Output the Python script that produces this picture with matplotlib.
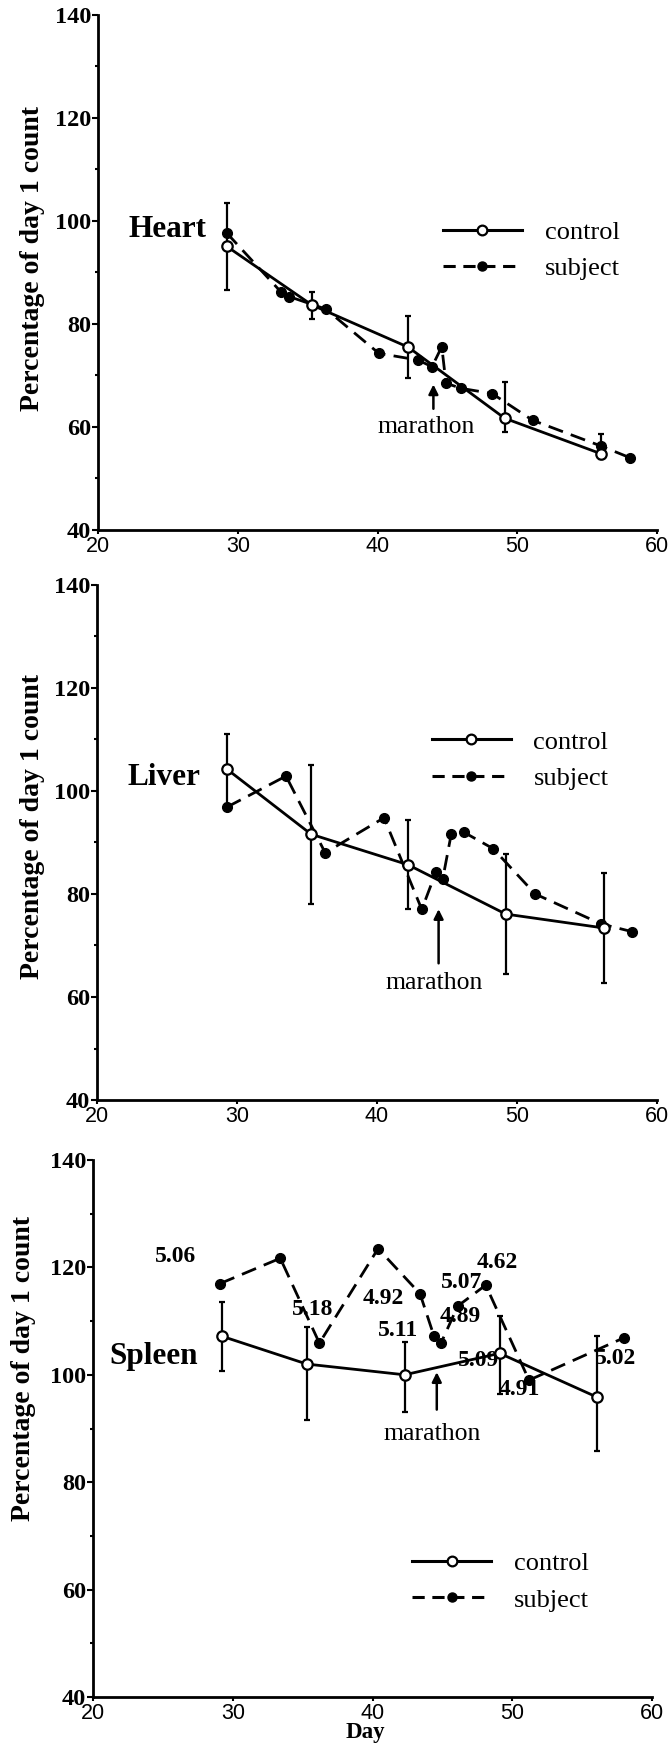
import numpy as np
import matplotlib
matplotlib.use('Agg')
import matplotlib.pyplot as plt
from matplotlib.lines import Line2D
from matplotlib.ticker import MultipleLocator

# DATA
# heart
heart_ctrl_day = [29.2, 35.3, 42.2, 49.1, 56.0]
heart_ctrl_val = [95.1, 83.7, 75.5, 61.7, 54.8]
heart_ctrl_lo = [8.5, 2.8, 6.0, 2.7, 1.0]
heart_ctrl_hi = [8.3, 2.5, 6.0, 7.0, 3.9]
heart_subj_day = [29.2, 33.1, 33.7, 36.3, 40.1, 42.9, 43.9, 44.6, 44.9, 46.0, 48.2, 51.1, 56.0, 58.1]
heart_subj_val = [97.7, 86.2, 85.3, 82.9, 74.3, 73.0, 71.7, 75.6, 68.5, 67.5, 66.5, 61.3, 56.3, 54.0]

# liver
liver_ctrl_day = [29.3, 35.3, 42.2, 49.2, 56.2]
liver_ctrl_val = [104.2, 91.6, 85.7, 76.1, 73.4]
liver_ctrl_err = [6.8, 13.5, 8.6, 11.6, 10.7]
liver_subj_day = [29.3, 33.5, 36.3, 40.5, 43.2, 44.2, 44.7, 45.3, 46.2, 48.3, 51.3, 56.0, 58.2]
liver_subj_val = [96.9, 102.9, 88.0, 94.8, 77.0, 84.2, 83.0, 91.6, 92.0, 88.8, 80.0, 74.2, 72.7]

# spleen
spleen_ctrl_day = [29.2, 35.3, 42.3, 49.1, 56.1]
spleen_ctrl_val = [107.2, 102.0, 100.0, 104.0, 95.8]
spleen_ctrl_lo = [6.4, 10.5, 7.0, 7.6, 10.0]
spleen_ctrl_hi = [6.4, 6.9, 6.2, 7.0, 11.4]
spleen_subj_day = [29.1, 33.4, 36.2, 40.4, 43.4, 44.4, 44.9, 46.1, 48.1, 51.2, 58.0]
spleen_subj_val = [117.0, 121.7, 105.9, 123.5, 115.1, 107.2, 105.9, 112.8, 116.7, 99.0, 106.9]
spleen_labels = ['5.06', '5.18', '4.92', '5.11', '4.89', '5.09', '5.07', '4.62', '4.91', '5.02']

# layout (not data)
spleen_label_pos = [(25.9, 122.0), (35.7, 112.2), (40.8, 114.2), (41.8, 108.2), (46.3, 110.8),
                    (47.6, 102.6), (46.4, 117.2), (48.9, 121.0), (50.5, 97.3), (57.4, 103.0)]

SERIF = 'Liberation Serif'
SANS = 'Liberation Sans'
DASH = (5.5, 3)


def style_axes(ax, ylab_xy):
    ax.set_xlim(20, 60)
    ax.set_ylim(40, 140)
    for s in ['top', 'right']:
        ax.spines[s].set_visible(False)
    for s in ['left', 'bottom']:
        ax.spines[s].set_linewidth(2)
    ax.xaxis.set_major_locator(MultipleLocator(10))
    ax.yaxis.set_major_locator(MultipleLocator(20))
    ax.yaxis.set_minor_locator(MultipleLocator(10))
    ax.tick_params(axis='y', which='major', direction='out', length=4, width=1.5, pad=1)
    ax.tick_params(axis='y', which='minor', direction='out', length=2, width=1.5)
    ax.tick_params(axis='x', which='major', direction='out', length=3, width=1.5, pad=1.5)
    for lab in ax.get_yticklabels():
        lab.set_fontfamily(SERIF)
        lab.set_fontweight('bold')
        lab.set_fontsize(17.5)
    for lab in ax.get_xticklabels():
        lab.set_fontfamily(SANS)
        lab.set_fontsize(15.5)
    ax.text(ylab_xy[0], ylab_xy[1], 'Percentage of day 1 count', transform=ax.transAxes,
            rotation=90, ha='center', va='center', fontsize=20, fontweight='bold', family=SERIF)


def draw_panel(ax, cday, cval, cerr, sday, sval):
    ax.errorbar(cday, cval, yerr=cerr, fmt='none', ecolor='black', elinewidth=1.6,
                capsize=2.5, capthick=1.6, zorder=2)
    ax.plot(sday, sval, color='black', lw=2, dashes=DASH, marker='o', markersize=7,
            markerfacecolor='black', markeredgecolor='black', zorder=3)
    ax.plot(cday, cval, color='black', lw=2, marker='o', markersize=7.5,
            markerfacecolor='white', markeredgecolor='black', markeredgewidth=1.6, zorder=4)


def add_legend(ax, anchor):
    handles = [Line2D([], [], color='black', lw=2.2, marker='o', markersize=7,
                      markerfacecolor='white', markeredgewidth=1.6),
               Line2D([], [], color='black', lw=2.2, dashes=(4, 2.5), marker='o', markersize=6.5,
                      markerfacecolor='black')]
    ax.legend(handles, ['control', 'subject'], loc='center left', bbox_to_anchor=anchor,
              frameon=False, handlelength=3.0, handletextpad=0.85, labelspacing=0.5,
              borderpad=0, borderaxespad=0, numpoints=1,
              prop={'family': SERIF, 'size': 19})


def marathon(ax, x, head, tail, tx, ty):
    ax.annotate('', xy=(x, head), xytext=(x, tail),
                arrowprops=dict(arrowstyle='-|>', color='black', lw=1.8, mutation_scale=14))
    ax.text(tx, ty, 'marathon', ha='center', va='center', fontsize=18.5, family=SERIF)


fig = plt.figure(figsize=(6.69, 17.44), dpi=100)

# Heart
ax1 = fig.add_axes([98 / 669, 1 - 530 / 1744, 559 / 669, 515 / 1744])
draw_panel(ax1, heart_ctrl_day, heart_ctrl_val, [heart_ctrl_lo, heart_ctrl_hi],
           heart_subj_day, heart_subj_val)
style_axes(ax1, (-0.118, 0.528))
add_legend(ax1, (0.617, 0.543))
ax1.text(22.2, 98.4, 'Heart', ha='left', va='center', fontsize=22.5, fontweight='bold', family=SERIF)
marathon(ax1, 44.0, 68.8, 63.0, 43.5, 60.0)

# Liver
ax2 = fig.add_axes([97 / 669, 1 - 1100 / 1744, 560 / 669, 515 / 1744])
draw_panel(ax2, liver_ctrl_day, liver_ctrl_val, liver_ctrl_err,
           liver_subj_day, liver_subj_val)
style_axes(ax2, (-0.115, 0.532))
add_legend(ax2, (0.598, 0.66))
ax2.text(22.2, 102.6, 'Liver', ha='left', va='center', fontsize=22.5, fontweight='bold', family=SERIF)
marathon(ax2, 44.4, 77.6, 66.0, 44.05, 62.7)

# Spleen
ax3 = fig.add_axes([93 / 669, 1 - 1697 / 1744, 559 / 669, 537 / 1744])
draw_panel(ax3, spleen_ctrl_day, spleen_ctrl_val, [spleen_ctrl_lo, spleen_ctrl_hi],
           spleen_subj_day, spleen_subj_val)
style_axes(ax3, (-0.125, 0.612))
add_legend(ax3, (0.571, 0.215))
ax3.text(21.2, 103.5, 'Spleen', ha='left', va='center', fontsize=22.5, fontweight='bold', family=SERIF)
marathon(ax3, 44.6, 101.0, 93.0, 44.3, 89.0)
for lab, (lx, ly) in zip(spleen_labels, spleen_label_pos):
    ax3.text(lx, ly, lab, ha='center', va='center', fontsize=17, fontweight='bold', family=SERIF)
fig.text((93 + 0.487 * 559) / 669, 1.5 / 1744, 'Day', ha='center', va='bottom',
         fontsize=16.5, fontweight='bold', family=SERIF)

plt.savefig('out.png', dpi=100)
plt.close()
